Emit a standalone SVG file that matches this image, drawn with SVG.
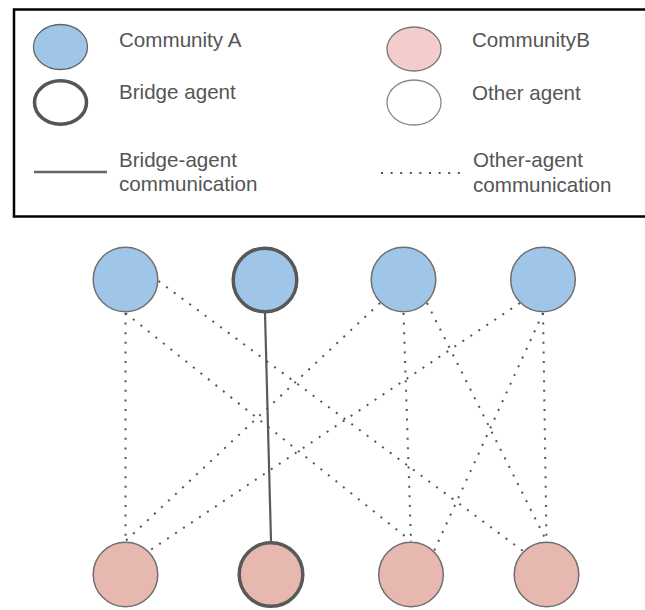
<svg xmlns="http://www.w3.org/2000/svg" width="645" height="610" viewBox="0 0 645 610">
  <style>
    .label { font-family: "Liberation Sans", Arial, sans-serif; font-size: 20.6px; fill: #555; }
    .dotted { stroke: #555; stroke-width: 2; stroke-dasharray: 2 7.6; fill: none; }
    .solid { stroke: #5a5a5a; stroke-width: 2.2; fill: none; }
    .comA { fill: #9fc5e8; }
    .comB { fill: #e6b8af; }
    .other { stroke: #6f6f6f; stroke-width: 1.5; }
    .bridge { stroke: #595959; stroke-width: 3.5; }
  </style>

  <!-- Legend -->
  <g id="legend">
    <rect x="14" y="9.5" width="640" height="207" fill="#fff" stroke="#000" stroke-width="2.5"/>
    <ellipse cx="60.5" cy="47" rx="27" ry="22.5" fill="#9fc5e8" stroke="#666" stroke-width="1.3"/>
    <text class="label" x="119" y="47">Community A</text>
    <ellipse cx="60.5" cy="102.5" rx="26" ry="21.7" fill="#fff" stroke="#555" stroke-width="3.5"/>
    <text class="label" x="119" y="99">Bridge agent</text>
    <ellipse cx="414" cy="49" rx="27" ry="22" fill="#f4cccc" stroke="#777" stroke-width="1.3"/>
    <text class="label" x="472" y="47">CommunityB</text>
    <ellipse cx="414" cy="102.5" rx="27" ry="22.5" fill="#fff" stroke="#888" stroke-width="1.3"/>
    <text class="label" x="472" y="100">Other agent</text>
    <line x1="34" y1="172" x2="107" y2="172" stroke="#666" stroke-width="2.5"/>
    <text class="label" x="119" y="167">Bridge-agent</text>
    <text class="label" x="119" y="191">communication</text>
    <line class="dotted" x1="381" y1="173" x2="462" y2="173"/>
    <text class="label" x="473" y="167">Other-agent</text>
    <text class="label" x="473" y="192">communication</text>
  </g>

  <!-- Connectors -->
  <g id="connectors">
    <line class="solid" x1="265" y1="313" x2="271" y2="541"/>
    <!-- from A1 -->
    <line class="dotted" x1="125.5" y1="313" x2="125.5" y2="541"/>
    <line class="dotted" x1="125.5" y1="313" x2="411" y2="541"/>
    <line class="dotted" x1="158.5" y1="281" x2="523" y2="551"/>
    <!-- from A3 -->
    <line class="dotted" x1="380" y1="303" x2="125.5" y2="541"/>
    <line class="dotted" x1="403.5" y1="313" x2="411" y2="541"/>
    <line class="dotted" x1="427" y1="303" x2="546.5" y2="541"/>
    <!-- from A4 -->
    <line class="dotted" x1="520" y1="303" x2="149" y2="551"/>
    <line class="dotted" x1="543" y1="313" x2="434" y2="551"/>
    <line class="dotted" x1="543" y1="313" x2="546.5" y2="541"/>
  </g>

  <!-- Community A agents -->
  <g id="a1"><circle class="comA other" cx="125.5" cy="279.5" r="32.3"/></g>
  <g id="a2"><circle class="comA bridge" cx="265" cy="280" r="31.8"/></g>
  <g id="a3"><circle class="comA other" cx="403.5" cy="279.5" r="32.3"/></g>
  <g id="a4"><circle class="comA other" cx="543" cy="279.5" r="32.3"/></g>

  <!-- Community B agents -->
  <g id="b1"><circle class="comB other" cx="125.5" cy="574.5" r="32.3"/></g>
  <g id="b2"><circle class="comB bridge" cx="271" cy="574.5" r="31.8"/></g>
  <g id="b3"><circle class="comB other" cx="411" cy="574.5" r="32.3"/></g>
  <g id="b4"><circle class="comB other" cx="546.5" cy="574.5" r="32.3"/></g>
</svg>
